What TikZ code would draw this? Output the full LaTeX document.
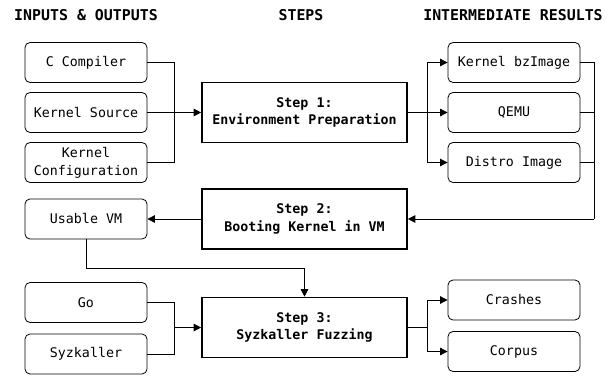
\documentclass[tikz,border=0pt]{standalone}
\usepackage{fontspec}
\setmonofont{DejaVu Sans Mono}
\usetikzlibrary{arrows.meta}
\tikzset{x=1pt,y=-1pt,
         >={Triangle[length=7.5pt,width=7.5pt]},
         every node/.style={font=\ttfamily\fontsize{13.3}{17.7}\selectfont,align=center,inner sep=0pt},
         head/.style={font=\ttfamily\bfseries\fontsize{14.9}{17.7}\selectfont},
         item/.style={draw,rounded corners=5pt,line width=0.8pt,minimum height=40pt},
         inbox/.style={item,minimum width=122pt},
         resbox/.style={item,minimum width=132pt},
         stepbox/.style={draw,line width=1.6pt,minimum width=205pt,minimum height=60pt,
                         font=\ttfamily\bfseries\fontsize{13.3}{17.7}\selectfont},
         link/.style={draw,line width=0.8pt}}

\begin{document}
\begin{tikzpicture}
\useasboundingbox (0,0) rectangle (613,375);

% column heads
\node[head] (h1) at (86,15) {INPUTS \& OUTPUTS};
\node[head] (h2) at (301,15) {STEPS};
\node[head] (h3) at (513,15) {INTERMEDIATE RESULTS};

% inputs and outputs
\node[inbox] (cc)  at (86,62.5) {C Compiler};
\node[inbox] (src) at (86,112.5) {Kernel Source};
\node[inbox] (cfg) at (86,162.5) {Kernel\\Configuration};
\node[inbox] (vm)  at (86,219) {Usable VM};
\node[inbox] (go)  at (86,302.5) {Go};
\node[inbox] (syz) at (86,354) {Syzkaller};

% steps
\node[stepbox] (s1) at (304.5,112.5) {Step 1:\\Environment Preparation};
\node[stepbox] (s2) at (304.5,219) {Step 2:\\Booting Kernel in VM};
\node[stepbox] (s3) at (304.5,327.5) {Step 3:\\Syzkaller Fuzzing};

% intermediate results
\node[resbox] (bz)   at (514,62.5) {Kernel bzImage};
\node[resbox] (qemu) at (514,112.5) {QEMU};
\node[resbox] (dist) at (514,162.5) {Distro Image};
\node[resbox] (crash) at (514,300) {Crashes};
\node[resbox] (corp)  at (514,351.5) {Corpus};

\coordinate (j1) at (174,112.5);
\coordinate (f1) at (427,112.5);
\coordinate (r2) at (594,219);
\coordinate (t3) at (304.5,268);
\coordinate (j3) at (174,327.5);
\coordinate (f3) at (427,327.5);

% step 1
\path[link] (cc.east) -| (j1);
\path[link] (cfg.east) -| (j1);
\path[link,->] (src.east) -- (s1.west);
\path[link,->] (s1.east) -- (qemu.west);
\path[link,->] (f1) |- (bz.west);
\path[link,->] (f1) |- (dist.west);

% step 2
\path[link] (bz.east) -| (r2);
\path[link] (qemu.east) -| (r2);
\path[link] (dist.east) -| (r2);
\path[link,->] (r2) -- (s2.east);
\path[link,->] (s2.west) -- (vm.east);

% step 3
\path[link,->] (vm.south) |- (t3) -- (s3.north);
\path[link] (go.east) -| (j3);
\path[link] (syz.east) -| (j3);
\path[link,->] (j3) -- (s3.west);
\path[link] (s3.east) -- (f3);
\path[link,->] (f3) |- (crash.west);
\path[link,->] (f3) |- (corp.west);
\end{tikzpicture}
\end{document}
